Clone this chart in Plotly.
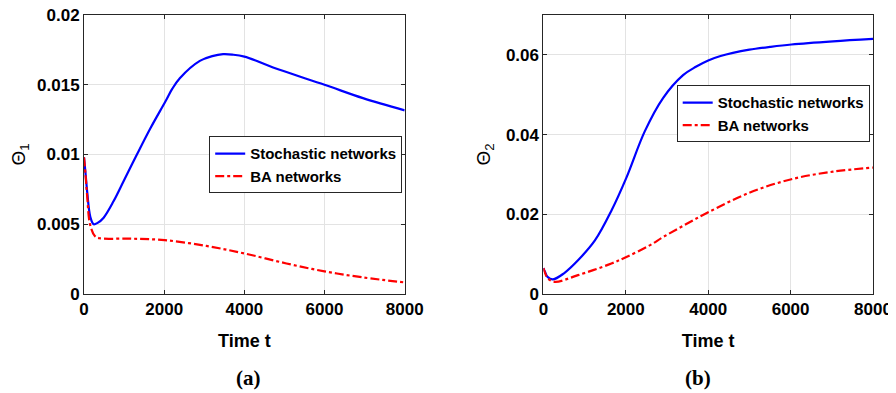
import plotly.graph_objects as go

# ---- data ----
t_a_sto = [0, 40, 80, 160, 240, 340, 490, 740, 990, 1320, 1660, 2030, 2200, 2390, 2890, 3200, 3470, 3700,
           4000, 4880, 6000, 6960, 8000]
v_a_sto = [0.0098, 0.0086, 0.0073, 0.0055, 0.0050, 0.0051, 0.00547, 0.00666, 0.0081, 0.0100, 0.0119, 0.0138,
           0.0147, 0.01547, 0.01671, 0.01705, 0.01719, 0.01716, 0.01702, 0.01607, 0.0150, 0.01404, 0.01316]

t_a_ba = [0, 40, 80, 150, 270, 390, 1140, 2010, 3050, 4010, 5050, 6000, 6960, 8000]
v_a_ba = [0.0098, 0.0085, 0.0070, 0.0050, 0.00416, 0.0040, 0.00397, 0.00386, 0.00345, 0.0029, 0.00219,
          0.00162, 0.00119, 0.00083]

t_b_sto = [0, 40, 100, 230, 500, 840, 1250, 1650, 2015, 2460, 2900, 3390, 3700, 4000, 4300, 4600, 5000,
           5500, 6020, 7030, 8000]
v_b_sto = [0.0065, 0.0055, 0.0043, 0.00366, 0.0052, 0.00846, 0.01343, 0.0209, 0.0292, 0.0408, 0.0491,
           0.0549, 0.0570, 0.0586, 0.0597, 0.0605, 0.0613, 0.0620, 0.0626, 0.0634, 0.0640]

t_b_ba = [0, 40, 100, 270, 840, 1650, 2015, 2580, 2900, 3390, 4000, 5000, 6020, 7030, 8000]
v_b_ba = [0.0065, 0.0053, 0.0040, 0.00306, 0.00473, 0.00764, 0.0093, 0.0122, 0.01425, 0.0171, 0.0205,
          0.0254, 0.0288, 0.0307, 0.0317]

x_ticks = [0, 2000, 4000, 6000, 8000]
y_ticks_a = [0, 0.005, 0.01, 0.015, 0.02]
y_ticks_b = [0, 0.02, 0.04, 0.06]
name_sto = "Stochastic networks"
name_ba = "BA networks"
captions = ["(a)", "(b)"]

# the page body adds an 8px offset; size the figure so it fills the window
OFF = 8
W, H = 896 - OFF, 393 - OFF
FONT = "Liberation Sans, Arial, sans-serif"

# plot-area frame in window pixels
L, R, T, B = 84.3, 873.3, 14.5, 294.0
PW, PH = R - L, B - T

def fx(p):
    return (p - L) / PW

def fy(p):
    return (B - p) / PH

fig = go.Figure()
line_sto = dict(color="#0000ff", width=2.2, shape="spline", smoothing=1.0)
line_ba = dict(color="#ff0000", width=2.2, dash="dashdot", shape="spline", smoothing=1.0)

fig.add_trace(go.Scatter(x=t_a_sto, y=v_a_sto, mode="lines", name=name_sto, xaxis="x", yaxis="y",
                         line=line_sto, legend="legend"))
fig.add_trace(go.Scatter(x=t_a_ba, y=v_a_ba, mode="lines", name=name_ba, xaxis="x", yaxis="y",
                         line=line_ba, legend="legend"))
fig.add_trace(go.Scatter(x=t_b_sto, y=v_b_sto, mode="lines", name=name_sto, xaxis="x2", yaxis="y2",
                         line=line_sto, legend="legend2"))
fig.add_trace(go.Scatter(x=t_b_ba, y=v_b_ba, mode="lines", name=name_ba, xaxis="x2", yaxis="y2",
                         line=line_ba, legend="legend2"))

axis_common = dict(
    showline=True, mirror="ticks", linecolor="#262626", linewidth=1,
    ticks="inside", ticklen=4, tickcolor="#262626",
    showgrid=True, gridcolor="#e3e3e3", gridwidth=1, zeroline=False,
    tickfont=dict(family=FONT, size=17, color="black", weight="bold"),
    automargin=False, ticklabeloverflow="allow",
)
xt = dict(text="Time t", font=dict(family=FONT, size=18, weight="bold"))

leg_common = dict(xanchor="right", yanchor="top", bordercolor="#262626", borderwidth=1, bgcolor="white",
                  font=dict(family=FONT, size=15, color="black", weight="bold"),
                  tracegroupgap=0, itemwidth=30)

fig.update_layout(
    width=W, height=H,
    margin=dict(l=L - OFF, r=896 - R, t=T - OFF, b=393 - B, autoexpand=False),
    paper_bgcolor="white", plot_bgcolor="white",
    font=dict(family=FONT, color="black"),
    xaxis=dict(domain=[0, fx(405)], range=[0, 8000], tickvals=x_ticks, anchor="y", title=xt, **axis_common),
    yaxis=dict(domain=[0, 1], range=[0, 0.02], tickvals=y_ticks_a, anchor="x",
               title=dict(text="\u0398<sub>1</sub>", font=dict(family=FONT, size=19), standoff=10),
               **axis_common),
    xaxis2=dict(domain=[fx(543.7), 1], range=[0, 8000], tickvals=x_ticks, anchor="y2", title=xt,
                **axis_common),
    yaxis2=dict(domain=[0, 1], range=[0, 0.07], tickvals=y_ticks_b, anchor="x2",
                title=dict(text="\u0398<sub>2</sub>", font=dict(family=FONT, size=19), standoff=10),
                **axis_common),
    legend=dict(x=fx(402.5), y=fy(136), **leg_common),
    legend2=dict(x=fx(870), y=fy(85), **leg_common),
    showlegend=True,
)

for cap, cx in zip(captions, [249, 698]):
    fig.add_annotation(text=cap, x=fx(cx), y=fy(378), xref="paper", yref="paper",
                       showarrow=False, xanchor="center", yanchor="middle",
                       font=dict(family="Liberation Serif, Times New Roman, serif", size=21,
                                 color="black", weight="bold"))

fig.write_html("out.html")
